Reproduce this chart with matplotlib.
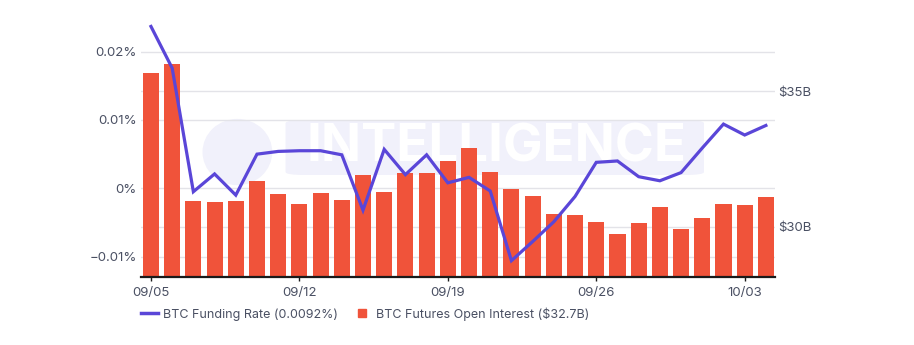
import matplotlib
matplotlib.use("Agg")
import matplotlib.pyplot as plt
from matplotlib.patches import FancyBboxPatch, Ellipse
import numpy as np

plt.rcParams['font.family'] = ['Inter', 'DejaVu Sans']

# Данные
dates = ["09/05", "09/06", "09/07", "09/08", "09/09", "09/10", "09/11", "09/12",
         "09/13", "09/14", "09/15", "09/16", "09/17", "09/18", "09/19", "09/20",
         "09/21", "09/22", "09/23", "09/24", "09/25", "09/26", "09/27", "09/28",
         "09/29", "09/30", "10/01", "10/02", "10/03", "10/04"]
open_interest = [35.65, 35.98, 30.97, 30.91, 30.96, 31.68, 31.20, 30.83, 31.26, 30.99,
                 31.91, 31.30, 32.00, 32.00, 32.43, 32.89, 32.03, 31.40, 31.15, 30.49,
                 30.44, 30.17, 29.75, 30.16, 30.74, 29.94, 30.33, 30.85, 30.80, 31.10]
funding_rate = [0.0237, 0.0176, -0.0005, 0.0021, -0.0010, 0.0050, 0.0054, 0.0055,
                0.0055, 0.0049, -0.0032, 0.0057, 0.0020, 0.0049, 0.0008, 0.0016,
                -0.0004, -0.0106, -0.0078, -0.0049, -0.0012, 0.0038, 0.0040, 0.0017,
                0.0011, 0.0023, 0.0059, 0.0094, 0.0078, 0.0092]
tick_days = [0, 7, 14, 21, 28]
left_ticks = [0.02, 0.01, 0, -0.01]
left_labels = ["0.02%", "0.01%", "0%", "\u22120.01%"]
right_ticks = [35, 30]
right_labels = ["$35B", "$30B"]

bar_color = "#f0533a"
line_color = "#5a46d8"
text_color = "#4a5063"
grid_color = "#e3e3e8"

x = np.arange(len(dates))

fig = plt.figure(figsize=(9.14, 3.45), dpi=100)
ax1 = fig.add_axes([141 / 914, (345 - 277) / 345, 634 / 914, 255 / 345])
ax2 = ax1.twinx()

# Водяной знак
ax1.add_patch(FancyBboxPatch((0.228, 0.40), 0.66, 0.215, boxstyle="round,pad=0,rounding_size=0.03",
                             transform=ax1.transAxes, facecolor="#f1f1fb", edgecolor="none",
                             zorder=0.5, mutation_aspect=0.4))
ax1.add_patch(Ellipse((0.152, 0.49), 0.11, 0.26, transform=ax1.transAxes,
                      facecolor="#f1f1fb", edgecolor="none", zorder=0.5))
ax1.text(0.56, 0.505, "INTELLIGENCE", transform=ax1.transAxes, ha="center", va="center",
         fontsize=38, fontweight="bold", color="white", zorder=0.6)

# Столбцы: открытый интерес
ax1.bar(x, open_interest, width=0.76, color=bar_color, zorder=2)
ax1.set_ylim(28.16, 37.54)
ax1.set_xlim(-0.47, 29.43)
ax1.yaxis.tick_right()
ax1.set_yticks(right_ticks)
ax1.set_yticklabels(right_labels)

# Сетка для обеих осей
for v in right_ticks:
    ax1.axhline(v, color=grid_color, linewidth=1, zorder=1)
for v in left_ticks:
    ax1.plot([0, 1], [v, v], transform=ax2.get_yaxis_transform(), color=grid_color,
             linewidth=1, zorder=1, scalex=False, scaley=False)

# Линия: ставка финансирования
ax2.plot(x, funding_rate, color=line_color, linewidth=2.3, zorder=3, solid_joinstyle="miter")
ax2.set_ylim(-0.01299, 0.02435)
ax2.yaxis.tick_left()
ax2.set_yticks(left_ticks)
ax2.set_yticklabels(left_labels)

ax1.set_xticks(tick_days)
ax1.set_xticklabels([dates[d] for d in tick_days])

for ax in (ax1, ax2):
    for s in ["top", "left", "right"]:
        ax.spines[s].set_visible(False)
    ax.tick_params(axis="y", length=0, labelsize=9.5, labelcolor=text_color, pad=3)
ax2.spines["bottom"].set_visible(False)
ax1.spines["bottom"].set_linewidth(1.6)
ax1.spines["bottom"].set_color("#1a1a1a")
ax1.tick_params(axis="x", length=3, width=1, color="#1a1a1a", labelsize=9.5,
                labelcolor=text_color, pad=4)
ax1.tick_params(axis="y", pad=2)

# Легенда
h1 = plt.Line2D([], [], color=line_color, linewidth=2.5)
h2 = plt.Line2D([], [], color=bar_color, marker="s", linestyle="none", markersize=5.5)
fig.legend([h1, h2], ["BTC Funding Rate (0.0092%)", "BTC Futures Open Interest ($32.7B)"],
           loc="center", bbox_to_anchor=(365 / 914, 1 - 314 / 345), ncol=2, frameon=False,
           fontsize=9, labelcolor=text_color, handlelength=1.4, handletextpad=0.4,
           columnspacing=1.2)

fig.savefig("out.png", dpi=100)
